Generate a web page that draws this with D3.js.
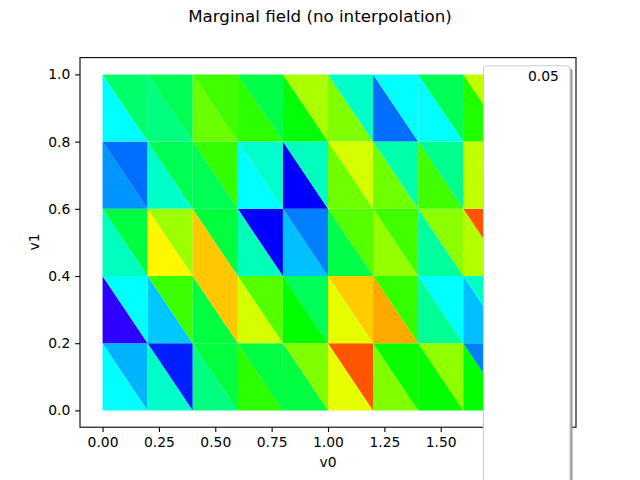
<!DOCTYPE html>
<html>
<head>
<meta charset="utf-8">
<script src="https://cdn.jsdelivr.net/npm/d3@7"></script>
<style>
html,body{margin:0;padding:0;background:#fff;overflow:hidden}
svg{display:block}
text{font-family:"DejaVu Sans",sans-serif;fill:#000}
</style>
</head>
<body>
<script>
const title = "Marginal field (no interpolation)";
const xName = "v0";
const yName = "v1";
const legendLabel = "0.05";
const xEdges = [0, 0.2, 0.4, 0.6, 0.8, 1.0, 1.2, 1.4, 1.6, 1.8];
const yEdges = [0, 0.2, 0.4, 0.6, 0.8, 1.0];
const xTicks = [0, 0.25, 0.5, 0.75, 1, 1.25, 1.5, 1.75, 2];
const yTicks = [0, 0.2, 0.4, 0.6, 0.8, 1];
// Hue level (degrees) of each triangle, per row of cells from the bottom.
const row0Lower = [180, 167, 150, 110, 135, 66, 90, 120, 120];
const row0Upper = [198, 233, 134, 135, 90, 20, 118, 86, 210];
const row1Lower = [251, 193, 135, 70, 120, 66, 40, 155, 195];
const row1Upper = [180, 106, 47, 100, 141, 48, 108, 180, 167];
const row2Lower = [165, 58, 47, 164, 195, 137, 85, 157, 78];
const row2Upper = [135, 83, 134, 240, 210, 100, 105, 87, 20];
const row3Lower = [205, 167, 140, 180, 240, 94, 94, 105, 75];
const row3Upper = [214, 140, 108, 168, 165, 70, 160, 153, 75];
const row4Lower = [180, 150, 95, 110, 122, 90, 214, 180, 113];
const row4Upper = [145, 140, 105, 137, 80, 167, 180, 140, 75];
const lowerRows = [row0Lower, row1Lower, row2Lower, row3Lower, row4Lower];
const upperRows = [row0Upper, row1Upper, row2Upper, row3Upper, row4Upper];

const W = 640, H = 480;
const svg = d3.select("body").append("svg").attr("width", W).attr("height", H);
const x = d3.scaleLinear().domain([-0.1, 2.1]).range([80, 576]);
const y = d3.scaleLinear().domain([-0.05, 1.05]).range([427.2, 57.6]);
const color = h => d3.hsl(h, 1, 0.5).formatRgb();

const tris = [];
lowerRows.forEach((row, j) => row.forEach((h, i) => {
  const x0 = xEdges[i], x1 = i + 1 < xEdges.length ? xEdges[i + 1] : x0 + 0.2;
  const y0 = yEdges[j], y1 = yEdges[j + 1];
  tris.push({h, pts: [[x0, y0], [x1, y0], [x0, y1]]});
  tris.push({h: upperRows[j][i], pts: [[x1, y0], [x1, y1], [x0, y1]]});
}));
svg.append("g").selectAll("polygon").data(tris).join("polygon")
  .attr("points", d => d.pts.map(p => x(p[0]) + "," + y(p[1])).join(" "))
  .attr("fill", d => color(d.h));

const fs = 13.89;
const fmtX = d3.format(".2f"), fmtY = d3.format(".1f");
const gx = svg.append("g").attr("transform", "translate(0,427.2)")
  .call(d3.axisBottom(x).tickValues(xTicks).tickFormat(fmtX).tickSize(4.86).tickPadding(4.86));
const gy = svg.append("g").attr("transform", "translate(80,0)")
  .call(d3.axisLeft(y).tickValues(yTicks).tickFormat(fmtY).tickSize(4.86).tickPadding(4.86));
[gx, gy].forEach(g => {
  g.select(".domain").remove();
  g.selectAll("text").style("font-size", fs + "px").style("font-family", '"DejaVu Sans"');
  g.selectAll("line").attr("stroke", "#000").attr("stroke-width", 1.1);
});
svg.append("rect").attr("x", 80).attr("y", 57.6).attr("width", 496).attr("height", 369.6)
  .attr("fill", "none").attr("stroke", "#000").attr("stroke-width", 1.1);

svg.append("text").attr("x", 320).attr("y", 22).attr("text-anchor", "middle").style("font-size", "16.67px").text(title);
svg.append("text").attr("x", 328).attr("y", 467).attr("text-anchor", "middle").style("font-size", fs + "px").text(xName);
svg.append("text").attr("transform", "translate(39,242) rotate(-90)").attr("text-anchor", "middle").style("font-size", fs + "px").text(yName);

svg.append("rect").attr("x", 486.5).attr("y", 68.5).attr("width", 86).attr("height", 500).attr("rx", 3).attr("fill", "#9a9a9a");
svg.append("rect").attr("x", 483.5).attr("y", 65.8).attr("width", 86.5).attr("height", 500).attr("rx", 3)
  .attr("fill", "#fff").attr("stroke", "#ccc").attr("stroke-width", 1.1);
svg.append("text").attr("x", 528).attr("y", 81).style("font-size", fs + "px").text(legendLabel);
</script>
</body>
</html>
